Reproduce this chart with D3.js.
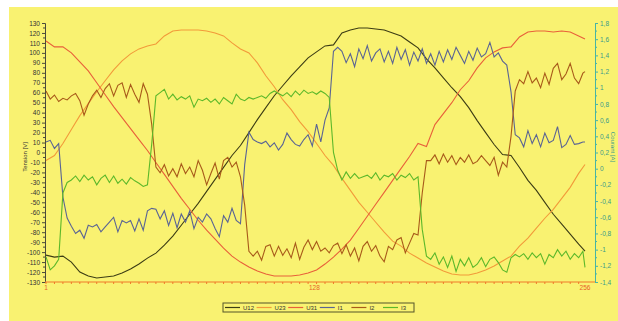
<!DOCTYPE html>
<html>
<head>
<meta charset="utf-8">
<script src="https://cdn.jsdelivr.net/npm/d3@7"></script>
<style>
  body { margin: 0; background: #fff; }
  text { font-family: "Liberation Sans", Arial, sans-serif; }
</style>
</head>
<body>
<svg id="chart" width="618" height="321"></svg>
<script>
// sample numbers (x axis runs over 256 samples)
const voltSamples = d3.range(1, 254, 4).concat([256]);
const currSamples = d3.range(1, 256, 2).concat([256]);
const xTickLabels = [1, 128, 256];

// voltages [V], left axis
const u12 = [-103,-105,-104,-110,-120,-124,-126,-125,-124,-121,-117,-112,-106,-101,-93,-84,-73,-62,-51,-39,-27,-15,-3,7,20,33,45,57,67,77,86,95,101,107,108,120,123,125,125,124,123,120,117,111,105,94,85,75,65,56,45,32,20,8,-2,-3,-15,-28,-38,-50,-62,-72,-82,-92,-99];
const u23 = [-8,-3,9,23,37,49,61,72,83,92,99,104,107,109,117,122,123,123,123,122,120,117,110,104,100,90,77,66,53,43,31,21,9,-3,-13,-26,-38,-50,-60,-70,-80,-89,-94,-101,-106,-111,-115,-119,-122,-123,-123,-121,-118,-114,-109,-104,-94,-86,-76,-66,-57,-46,-35,-21,-12];
const u31 = [112,106,106,100,91,82,70,58,46,35,24,13,2,-10,-22,-34,-46,-57,-68,-78,-87,-96,-104,-110,-115,-119,-122,-124,-124,-124,-123,-121,-118,-112,-105,-97,-88,-76,-64,-52,-40,-28,-16,-4,9,6,28,39,50,63,72,85,95,101,105,106,116,121,122,122,121,122,121,117,114];

// currents [A], right axis
const i1 = [0.33,0.35,0.25,0.31,-0.35,-0.61,-0.71,-0.80,-0.76,-0.86,
  -0.70,-0.72,-0.69,-0.78,-0.72,-0.66,-0.60,-0.78,-0.64,-0.67,
  -0.64,-0.77,-0.62,-0.76,-0.52,-0.49,-0.50,-0.62,-0.52,-0.70,
  -0.55,-0.73,-0.56,-0.66,-0.52,-0.74,-0.60,-0.66,-0.56,-0.62,
  -0.74,-0.84,-0.58,-0.66,-0.49,-0.64,-0.68,0.05,0.45,0.36,
  0.33,0.31,0.34,0.27,0.32,0.23,0.30,0.44,0.36,0.30,
  0.28,0.36,0.42,0.28,0.55,0.33,0.60,0.75,1.45,1.50,
  1.45,1.31,1.42,1.26,1.48,1.36,1.52,1.33,1.43,1.48,
  1.32,1.45,1.30,1.50,1.35,1.47,1.28,1.44,1.33,1.48,
  1.30,1.42,1.28,1.45,1.32,1.47,1.35,1.50,1.40,1.30,
  1.45,1.34,1.49,1.38,1.42,1.56,1.38,1.43,1.33,1.28,
  0.95,0.42,0.38,0.27,0.47,0.31,0.42,0.27,0.44,0.32,
  0.35,0.52,0.26,0.30,0.41,0.30,0.31,0.33,0.33];
const i2 = [0.96,0.86,0.91,0.83,0.87,0.85,0.90,0.93,0.84,0.66,
  0.80,0.90,0.97,0.88,0.99,1.05,0.90,1.03,1.06,0.88,
  1.04,0.92,0.82,1.05,0.92,0.55,0.02,-0.05,0.05,-0.09,
  0.00,-0.10,0.06,-0.06,0.02,-0.10,0.10,-0.02,-0.20,-0.06,
  0.07,-0.13,0.10,0.14,0.02,0.08,-0.10,-0.45,-1.02,-1.08,
  -1.02,-1.13,-0.96,-0.94,-1.08,-0.96,-1.07,-0.99,-1.10,-0.92,
  -1.12,-0.97,-0.88,-1.00,-0.90,-1.02,-0.98,-1.04,-0.95,-0.92,
  -1.05,-0.94,-1.08,-0.98,-1.14,-0.96,-0.90,-1.02,-0.95,-1.08,
  -1.15,-0.96,-1.00,-0.88,-0.85,-1.04,-0.92,-0.80,-0.82,-0.30,
  0.10,0.10,0.17,0.06,0.18,0.08,0.16,0.05,0.14,0.08,
  0.17,0.06,0.09,0.16,0.10,0.04,0.14,-0.08,0.08,0.02,
  0.40,0.96,1.10,1.05,1.20,1.06,1.12,1.00,1.18,1.04,
  1.24,1.30,1.10,1.17,1.30,1.12,1.05,1.18,1.20];
const i3 = [-1.09,-1.25,-1.20,-1.12,-0.30,-0.17,-0.14,-0.09,-0.16,-0.08,
  -0.14,-0.10,-0.20,-0.12,-0.08,-0.17,-0.09,-0.18,-0.13,-0.19,
  -0.11,-0.15,-0.18,-0.22,-0.20,0.30,0.90,0.94,0.98,0.86,
  0.92,0.85,0.89,0.86,0.90,0.76,0.86,0.84,0.87,0.82,
  0.86,0.80,0.88,0.84,0.80,0.92,0.86,0.84,0.88,0.86,
  0.88,0.90,0.87,0.93,0.96,0.93,0.90,0.94,0.89,0.96,
  0.91,0.97,0.93,0.95,0.92,0.96,0.93,0.88,0.20,-0.02,
  -0.14,-0.04,-0.12,-0.06,-0.12,-0.10,-0.08,-0.12,-0.05,-0.14,
  -0.08,-0.10,-0.06,-0.14,-0.08,-0.11,-0.06,-0.14,-0.10,-0.75,
  -1.08,-1.12,-1.04,-1.18,-1.09,-1.22,-1.08,-1.27,-1.12,-1.20,
  -1.10,-1.22,-1.18,-1.10,-1.21,-1.12,-1.09,-1.16,-1.25,-1.28,
  -1.10,-1.06,-1.09,-1.05,-1.12,-1.04,-1.10,-1.05,-1.18,-1.06,
  -1.10,-1.00,-1.08,-1.02,-1.12,-1.05,-1.10,-1.02,-1.22];

const seriesNames = ["U12", "U23", "U31", "I1", "I2", "I3"];
const seriesColors = ["#3c3c14", "#f29a3a", "#e8603a", "#5a6494", "#a85a1a", "#5cb82a"];

const svg = d3.select("#chart");
svg.append("rect").attr("x", 9).attr("y", 7).attr("width", 609).attr("height", 314).attr("fill", "#f9f271");

const plotLeft = 45, plotRight = 595, plotTop = 23, plotBottom = 282;
const x = d3.scaleLinear().domain([1, 256]).range([46, 585]);
const yV = d3.scaleLinear().domain([-130, 130]).range([plotBottom, plotTop]);
const yA = d3.scaleLinear().domain([-1.4, 1.8]).range([plotBottom, plotTop]);

// left axis
const leftAxis = svg.append("g").attr("transform", `translate(${plotLeft},0)`)
  .call(d3.axisLeft(yV).tickValues(d3.range(-130, 131, 10)).tickSize(3).tickFormat(d => String(d)));
leftAxis.append("g").selectAll("line").data(d3.range(-125, 130, 10)).join("line")
  .attr("x1", -2).attr("x2", 0).attr("y1", d => yV(d)).attr("y2", d => yV(d));
leftAxis.selectAll("path.domain").attr("stroke", "#4a4a3a");
leftAxis.selectAll("line").attr("stroke", "#4a4a3a");
leftAxis.selectAll("text").attr("fill", "#333").style("font-size", "6.5px").attr("x", -5);

// right axis
const commaFmt = d => d === 0 ? "0" : String(+d.toFixed(1)).replace(".", ",");
const rightAxis = svg.append("g").attr("transform", `translate(${plotRight},0)`)
  .call(d3.axisRight(yA).tickValues(d3.range(-7, 10).map(k => k / 5)).tickSize(3).tickFormat(commaFmt));
rightAxis.append("g").selectAll("line").data(d3.range(-13, 18, 2).map(k => k / 10)).join("line")
  .attr("x1", 0).attr("x2", 2).attr("y1", d => yA(d)).attr("y2", d => yA(d));
rightAxis.selectAll("path.domain").attr("stroke", "#48b4a4");
rightAxis.selectAll("line").attr("stroke", "#48b4a4");
rightAxis.selectAll("text").attr("fill", "#3a9a8a").style("font-size", "6.5px").attr("x", 5);

// bottom axis
const xAxis = svg.append("g").attr("transform", `translate(0,${plotBottom})`);
xAxis.append("line").attr("x1", plotLeft).attr("x2", plotRight).attr("stroke", "#f07a2a").attr("stroke-width", 1.2);
xAxis.selectAll("line.tk").data(d3.range(1, 257, 4)).join("line").attr("class", "tk")
  .attr("x1", d => x(d)).attr("x2", d => x(d)).attr("y1", 0).attr("y2", 2).attr("stroke", "#f07a2a");
xAxis.selectAll("text").data(xTickLabels).join("text")
  .attr("x", d => x(d)).attr("y", 8).attr("text-anchor", "middle")
  .attr("fill", "#e8602a").style("font-size", "6.5px").text(d => d);

// axis titles
svg.append("text").attr("transform", "translate(27,157) rotate(-90)").attr("text-anchor", "middle")
  .attr("fill", "#333").style("font-size", "6px").text("Tension [V]");
svg.append("text").attr("transform", "translate(611,147) rotate(90)").attr("text-anchor", "middle")
  .attr("fill", "#3a9a8a").style("font-size", "6px").text("Courant [A]");

// lines
const voltLine = d3.line().x((d, k) => x(voltSamples[k])).y(d => yV(d));
const currLine = d3.line().x((d, k) => x(currSamples[k])).y(d => yA(d));
const plotted = [
  { v: u12, gen: voltLine }, { v: u23, gen: voltLine }, { v: u31, gen: voltLine },
  { v: i1, gen: currLine }, { v: i2, gen: currLine }, { v: i3, gen: currLine }
];
plotted.forEach((s, k) => {
  svg.append("path").attr("d", s.gen(s.v)).attr("fill", "none")
    .attr("stroke", seriesColors[k]).attr("stroke-width", 1.1);
});

// legend
const legend = svg.append("g");
legend.append("rect").attr("x", 223).attr("y", 303).attr("width", 191).attr("height", 9)
  .attr("fill", "none").attr("stroke", "#55552a").attr("stroke-width", 1);
seriesNames.forEach((name, k) => {
  const lx = 225 + k * 31.6;
  legend.append("line").attr("x1", lx).attr("x2", lx + 15).attr("y1", 307.5).attr("y2", 307.5)
    .attr("stroke", seriesColors[k]).attr("stroke-width", 1.2);
  legend.append("text").attr("x", lx + 18).attr("y", 310).attr("fill", "#333")
    .style("font-size", "6px").text(name);
});
</script>
</body>
</html>
